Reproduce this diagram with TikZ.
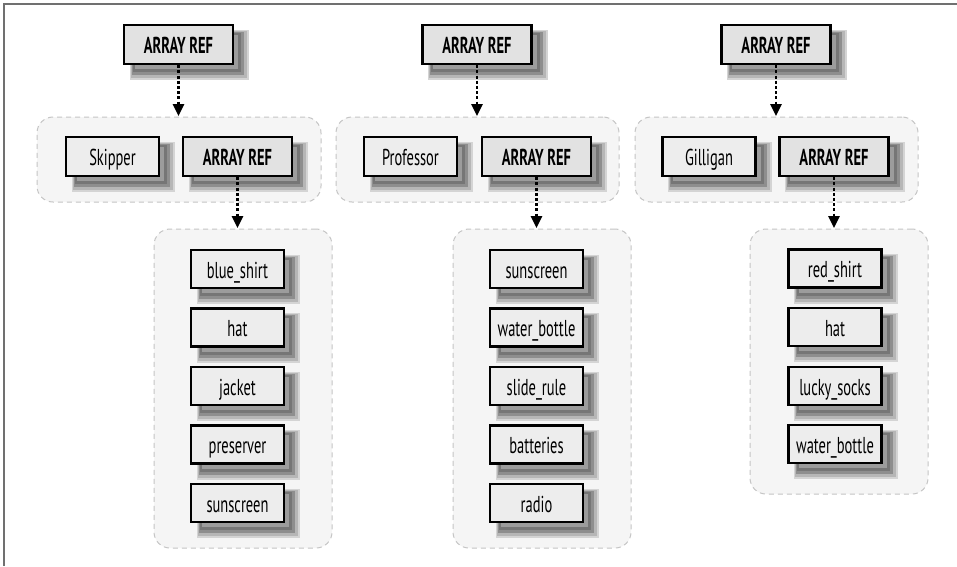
\documentclass[tikz,border=0pt]{standalone}
\usepackage{fontspec}
\setmainfont{PT Sans}[FakeStretch=0.63]
\usetikzlibrary{calc,arrows.meta}
\pgfdeclarelayer{grp}
\pgfdeclarelayer{shd}
\pgfsetlayers{grp,shd,main}
\definecolor{grpfill}{HTML}{F5F5F5}
\definecolor{grpline}{HTML}{C4C4C4}
\definecolor{reffill}{HTML}{E2E2E2}
\definecolor{itemfill}{HTML}{EDEDED}
\definecolor{shA}{HTML}{D4D4D4}
\definecolor{shB}{HTML}{B6B6B6}
\definecolor{shC}{HTML}{8E8E8E}
\definecolor{shD}{HTML}{767676}
\definecolor{shE}{HTML}{9C9C9C}
\definecolor{framec}{HTML}{707070}
\newcommand\dropshade[1]{%
  \begin{pgfonlayer}{shd}
    \fill[shA] ($(#1.north west)+(7,6)$) rectangle ($(#1.south east)+(15,15)$);
    \fill[shB] ($(#1.north west)+(8,7)$) rectangle ($(#1.south east)+(13,13)$);
    \fill[shC] ($(#1.north west)+(9,8)$) rectangle ($(#1.south east)+(10,10)$);
    \fill[shD] ($(#1.north west)+(10,9)$) rectangle ($(#1.south east)+(7,7)$);
    \fill[shE] ($(#1.north west)+(12,11)$) rectangle ($(#1.south east)+(4,4)$);
  \end{pgfonlayer}}
\begin{document}
\begin{tikzpicture}[x=1pt,y=-1pt,
  basebox/.style={draw=black, line width=2.2pt, inner sep=0pt, text height=18.5pt, text depth=0pt,
    font=\fontsize{23}{27}\selectfont},
  refbox/.style={basebox, fill=reffill, minimum width=109pt, minimum height=39pt, font=\fontsize{23}{27}\selectfont\bfseries},
  itembox/.style={basebox, fill=itemfill, minimum width=93pt, minimum height=38pt},
  grpbox/.style={draw=grpline, fill=grpfill, dash pattern=on 5pt off 4pt, line width=1pt,
    rounded corners=16pt, inner sep=0pt},
  ptr/.style={line width=2.6pt, dash pattern=on 3pt off 2.2pt, -{Triangle[length=12pt,width=11pt]}, shorten >=0.5pt}
]
\useasboundingbox (0,0) rectangle (957,566);
\draw[framec, line width=1.5pt] (4,566) -- (4,4) -- (957,4);

% groups
\begin{pgfonlayer}{grp}
\node[grpbox, minimum width=284pt, minimum height=85pt] (g1) at (179,159.5) {};
\node[grpbox, minimum width=178pt, minimum height=319pt] (l1) at (243,388.5) {};
\node[grpbox, minimum width=283pt, minimum height=85pt] (g2) at (477.5,159.5) {};
\node[grpbox, minimum width=178pt, minimum height=319pt] (l2) at (542,388.5) {};
\node[grpbox, minimum width=283pt, minimum height=85pt] (g3) at (776.5,159.5) {};
\node[grpbox, minimum width=178pt, minimum height=265pt] (l3) at (839,361.5) {};
\end{pgfonlayer}

% column 1
\node[refbox] (t1) at (178.5,44.5) {ARRAY REF};
\node[itembox, minimum height=39pt] (n1) at (112.5,156.5) {Skipper};
\node[refbox] (r1) at (237.5,156.5) {ARRAY REF};
\node[itembox] (a1) at (237.5,269) {blue\_shirt};
\node[itembox] (a2) at (237.5,327.5) {hat};
\node[itembox] (a3) at (237.5,386) {jacket};
\node[itembox] (a4) at (237.5,444.5) {preserver};
\node[itembox] (a5) at (237.5,503) {sunscreen};

% column 2
\node[refbox] (t2) at (477,44.5) {ARRAY REF};
\node[itembox, minimum height=39pt] (n2) at (410.5,156.5) {Professor};
\node[refbox] (r2) at (536.5,156.5) {ARRAY REF};
\node[itembox] (b1) at (536.5,269) {sunscreen};
\node[itembox] (b2) at (536.5,327.5) {water\_bottle};
\node[itembox] (b3) at (536.5,386) {slide\_rule};
\node[itembox] (b4) at (536.5,444.5) {batteries};
\node[itembox] (b5) at (536.5,503) {radio};

% column 3
\node[refbox] (t3) at (776,44.5) {ARRAY REF};
\node[itembox, minimum height=39pt] (n3) at (709,156.5) {Gilligan};
\node[refbox] (r3) at (834,156.5) {ARRAY REF};
\node[itembox] (c1) at (835,268.5) {red\_shirt};
\node[itembox] (c2) at (835,327) {hat};
\node[itembox] (c3) at (835,386) {lucky\_socks};
\node[itembox] (c4) at (835,444) {water\_bottle};

\foreach \n in {t1,n1,r1,a1,a2,a3,a4,a5,t2,n2,r2,b1,b2,b3,b4,b5,t3,n3,r3,c1,c2,c3,c4}{\dropshade{\n}}

% pointers
\draw[ptr] (t1.south) -- (t1.south |- g1.north);
\draw[ptr] (r1.south) -- (r1.south |- l1.north);
\draw[ptr] (t2.south) -- (t2.south |- g2.north);
\draw[ptr] (r2.south) -- (r2.south |- l2.north);
\draw[ptr] (t3.south) -- (t3.south |- g3.north);
\draw[ptr] (r3.south) -- (r3.south |- l3.north);
\end{tikzpicture}
\end{document}
